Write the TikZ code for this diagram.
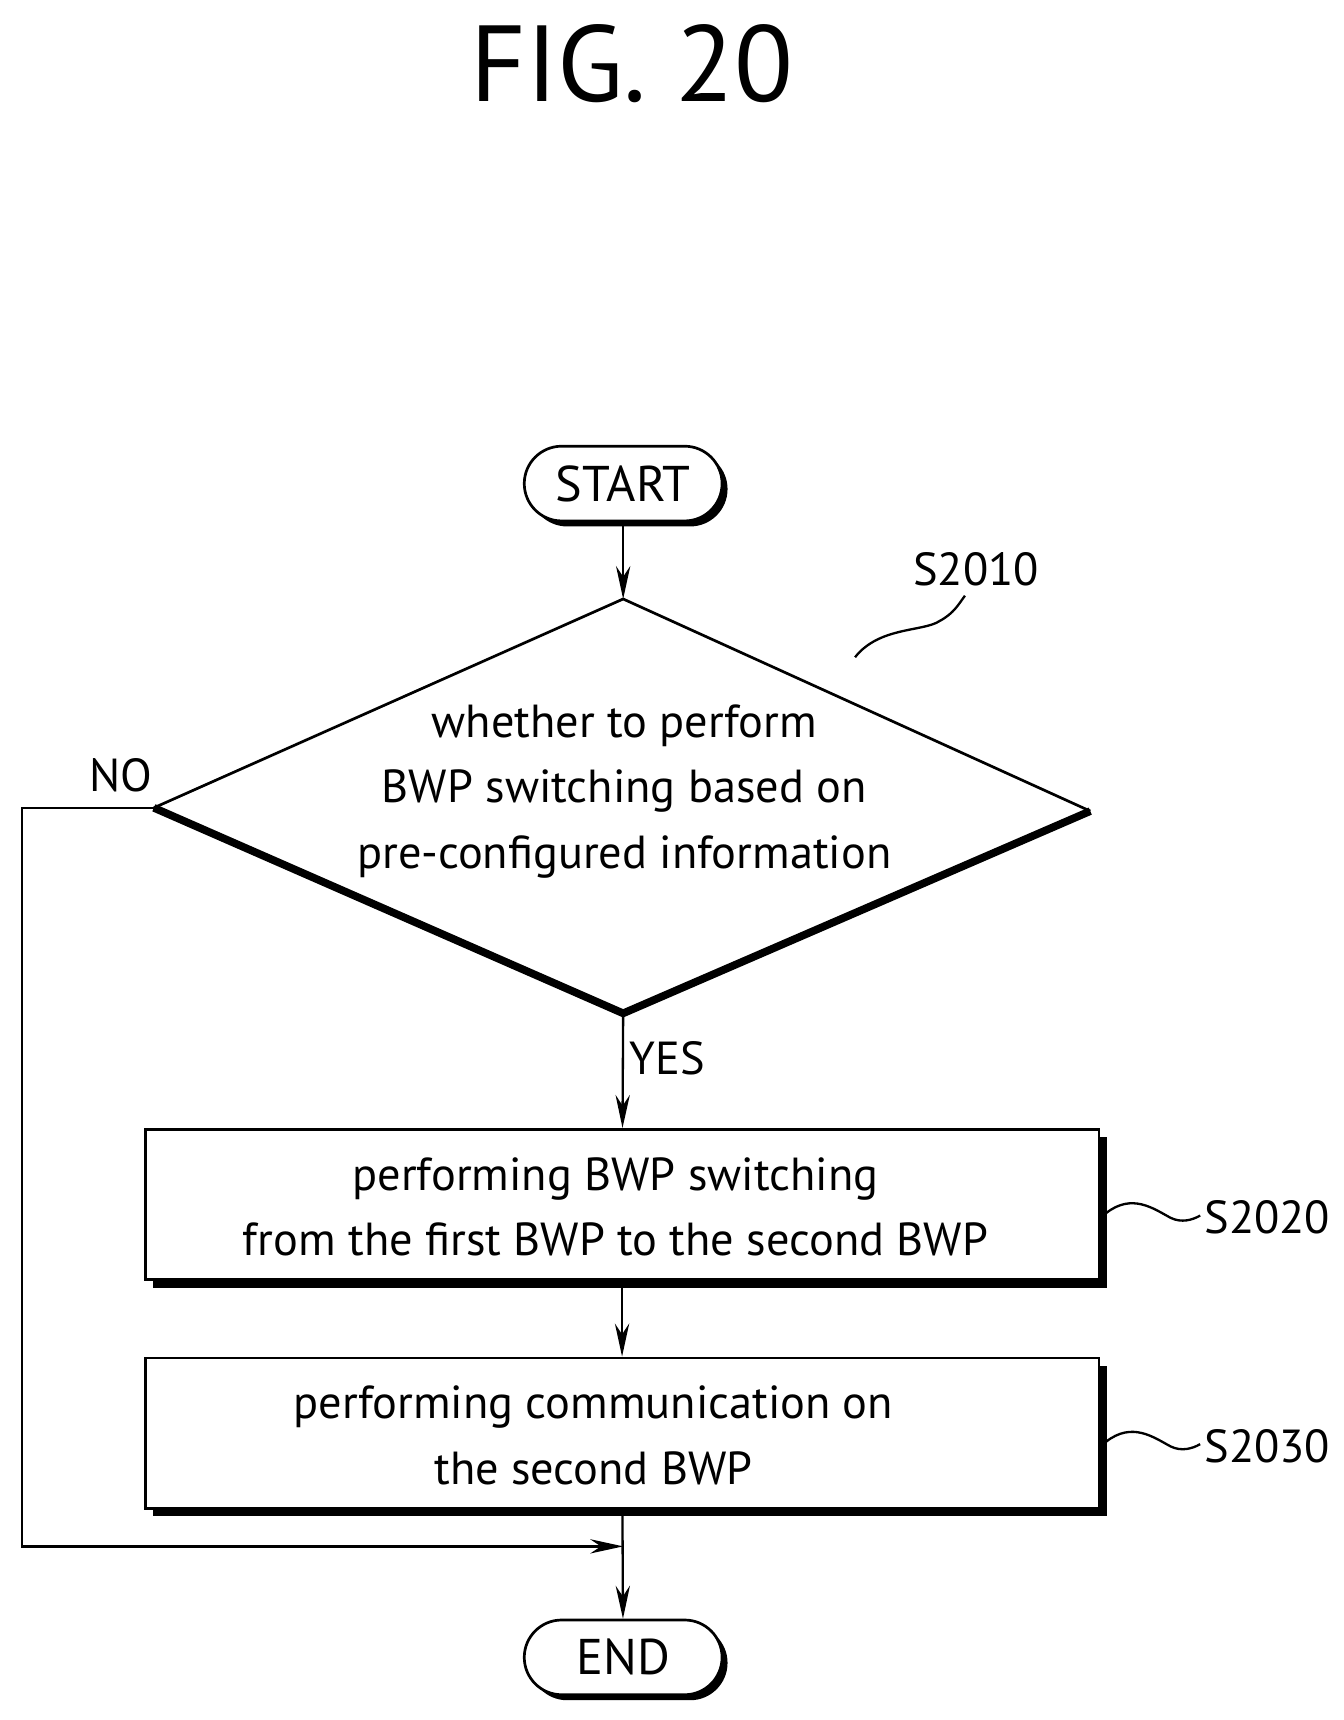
\documentclass[tikz,border=0pt]{standalone}
\usepackage{fontspec}
\setmainfont{PT Sans}
\usetikzlibrary{shadows,arrows.meta}
\begin{document}
\begin{tikzpicture}[x=0.02cm,y=-0.02cm,
  txt/.style={font=\fontsize{24}{34}\selectfont, align=center},
  box/.style={draw, line width=1.4pt, fill=white, minimum width=17.36cm, minimum height=2.74cm,
     drop shadow={shadow xshift=0.14cm, shadow yshift=-0.14cm, fill=black, opacity=1}},
  term/.style={draw, line width=1.4pt, fill=white, rounded corners=0.68cm, minimum width=3.6cm, minimum height=1.36cm,
     font=\fontsize{26}{30}\selectfont,
     drop shadow={shadow xshift=0.1cm, shadow yshift=-0.1cm, fill=black, opacity=1}},
  arr/.style={line width=1.2pt, -{Stealth[length=0.6cm,width=0.26cm]}},
  ln/.style={line width=1.2pt}]
\useasboundingbox (0,0) rectangle (1222,1565);
\node[font=\fontsize{56}{60}\selectfont] (title) at (575,58) {FIG. 20};
\node[term] (start) at (567,440) {START};
\coordinate (dt) at (567,545);
\coordinate (dl) at (140,735);
\coordinate (dr) at (992,738);
\coordinate (db) at (567,922);
\draw[line width=1.4pt] (dl) -- (dt) -- (dr);
\draw[line width=4pt, line join=miter] (dl) -- (db) -- (dr);
\node[txt] (q) at (568,720) {whether to perform\\BWP switching based on\\pre-configured information};
\node[txt] (s2010) at (888,518) {S2010};
\draw[ln] (778,598) .. controls (800,570) and (840,575) .. (855,565) .. controls (868,558) and (872,550) .. (878,542);
\node[txt] (no) at (110,705) {NO};
\node[txt] (yes) at (607,963) {YES};
\node[box] (b1) at (566,1096) {};
\node[txt] (t1) at (560,1098) {performing BWP switching\\from the first BWP to the second BWP};
\node[box] (b2) at (566,1304) {};
\node[txt] (t2) at (540,1306) {performing communication on\\the second BWP};
\node[term] (end) at (567,1508) {END};
\node[txt] (s2020) at (1153,1108) {S2020};
\node[txt] (s2030) at (1153,1316) {S2030};
\draw[ln] (b1.east) ++(5,8) .. controls (1030,1085) and (1050,1100) .. (1065,1108) .. controls (1075,1113) and (1085,1110) .. (1092,1106);
\draw[ln] (b2.east) ++(5,8) .. controls (1030,1293) and (1050,1308) .. (1065,1316) .. controls (1075,1321) and (1085,1318) .. (1092,1314);
\coordinate (j) at (567,1407);
\coordinate (c1) at (20,735);
\coordinate (c2) at (20,1407);
\draw[arr] (start) -- (dt);
\draw[arr] (db) -- (b1);
\draw[arr] (b1) -- (b2);
\draw[arr] (b2) -- (end);
\draw[arr] (dl) -- (c1) -- (c2) -- (j);
\end{tikzpicture}
\end{document}
